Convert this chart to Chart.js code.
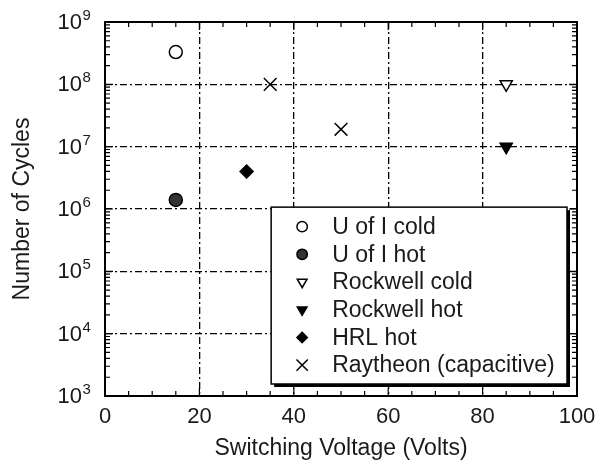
<!DOCTYPE html>
<html>
<head>
<meta charset="utf-8">
<script src="https://cdn.jsdelivr.net/npm/chart.js@4.4.1/dist/chart.umd.min.js"></script>
<style>
  html, body { margin: 0; padding: 0; background: #fff; }
  #wrap { width: 599px; height: 466px; }
</style>
</head>
<body>
<div id="wrap"><canvas id="chart"></canvas></div>
<script>
// values
const U_OF_I_COLD = [{ x: 15, y: 3.3e8 }]
const U_OF_I_HOT = [{ x: 15, y: 1.4e6 }]
const ROCKWELL_COLD = [{ x: 85, y: 1e8 }]
const ROCKWELL_HOT = [{ x: 85, y: 1e7 }]
const HRL_HOT = [{ x: 30, y: 4e6 }]
const RAYTHEON = [{ x: 35, y: 1e8 }, { x: 50, y: 1.9e7 }]

const X_TICKS = [0, 20, 40, 60, 80, 100]
const X_MINOR_STEP = 5
const Y_DECADES = [1e3, 1e4, 1e5, 1e6, 1e7, 1e8, 1e9]

const FONT = "'Liberation Sans', Arial, sans-serif"
const INK = "#1a1a1a"
const DASH = [7, 3, 2, 3]

Chart.defaults.font.family = FONT
Chart.defaults.color = INK

const open = { backgroundColor: "#fff", borderColor: "#000", borderWidth: 1.5 }
const filled = { backgroundColor: "#000", borderColor: "#000", borderWidth: 1.5 }

const datasets = [
  { label: "U of I cold", data: U_OF_I_COLD, pointStyle: "circle", pointRadius: 6.5, ...open },
  { label: "U of I hot", data: U_OF_I_HOT, pointStyle: "circle", pointRadius: 6.5,
    backgroundColor: "#333", borderColor: "#000", borderWidth: 1.5 },
  { label: "Rockwell cold", data: ROCKWELL_COLD, pointStyle: "triangle", rotation: 180, pointRadius: 7, ...open },
  { label: "Rockwell hot", data: ROCKWELL_HOT, pointStyle: "triangle", rotation: 180, pointRadius: 7, ...filled },
  { label: "HRL hot", data: HRL_HOT, pointStyle: "rectRot", pointRadius: 6.5, ...filled },
  { label: "Raytheon (capacitive)", data: RAYTHEON, pointStyle: "crossRot", pointRadius: 9,
    borderColor: "#000", backgroundColor: "#000", borderWidth: 1.5 },
]

// box, inward ticks and 10^n labels
const framePlugin = {
  id: "frame",
  afterDraw(chart) {
    const { ctx, chartArea: a, scales: { x, y } } = chart
    ctx.save()
    ctx.strokeStyle = "#000"
    ctx.lineWidth = 1.2
    ctx.beginPath()
    for (let v = X_TICKS[0]; v <= X_TICKS[X_TICKS.length - 1]; v += X_MINOR_STEP) {
      const px = x.getPixelForValue(v)
      const len = X_TICKS.includes(v) ? 8 : 5
      ctx.moveTo(px, a.bottom); ctx.lineTo(px, a.bottom - len)
      ctx.moveTo(px, a.top); ctx.lineTo(px, a.top + len)
    }
    Y_DECADES.forEach((d, i) => {
      const py = y.getPixelForValue(d)
      ctx.moveTo(a.left, py); ctx.lineTo(a.left + 8, py)
      ctx.moveTo(a.right, py); ctx.lineTo(a.right - 8, py)
      if (i === Y_DECADES.length - 1) return
      for (let m = 2; m <= 9; m++) {
        const pm = y.getPixelForValue(m * d)
        ctx.moveTo(a.left, pm); ctx.lineTo(a.left + 5, pm)
        ctx.moveTo(a.right, pm); ctx.lineTo(a.right - 5, pm)
      }
    })
    ctx.stroke()

    ctx.lineWidth = 2
    ctx.strokeRect(a.left, a.top, a.right - a.left, a.bottom - a.top)

    ctx.fillStyle = INK
    ctx.textBaseline = "alphabetic"
    Y_DECADES.forEach(d => {
      const py = y.getPixelForValue(d)
      const baseX = a.left - 23
      ctx.font = "22px " + FONT
      ctx.textAlign = "right"
      ctx.fillText("10", baseX, py + 7)
      ctx.font = "15px " + FONT
      ctx.textAlign = "left"
      ctx.fillText(String(Math.round(Math.log10(d))), baseX + 0.5, py - 2)
    })
    ctx.restore()
  },
}

// legend box drawn inside the plot, lower right
const legendPlugin = {
  id: "boxLegend",
  afterDatasetsDraw(chart) {
    const { ctx, chartArea: a } = chart
    const w = a.right - a.left
    const h = a.bottom - a.top
    const left = a.left + w * 0.352
    const right = a.right - 10
    const top = a.top + h * 0.495
    const bottom = a.bottom - 12
    ctx.save()
    ctx.fillStyle = "#000"
    ctx.fillRect(left + 3, top + 3, right - left, bottom - top)
    ctx.fillStyle = "#fff"
    ctx.fillRect(left, top, right - left, bottom - top)
    ctx.strokeStyle = "#000"
    ctx.lineWidth = 1.5
    ctx.strokeRect(left, top, right - left, bottom - top)

    const rowH = 27.7
    chart.data.datasets.forEach((ds, i) => {
      const cy = top + 19.5 + i * rowH
      const mx = left + 31
      ctx.fillStyle = ds.backgroundColor
      ctx.strokeStyle = ds.borderColor
      ctx.lineWidth = ds.borderWidth
      Chart.helpers.drawPoint(ctx, {
        pointStyle: ds.pointStyle,
        rotation: ds.rotation || 0,
        radius: ds.pointStyle === "crossRot" ? 8 : ds.pointRadius * 0.8,
        borderWidth: ds.borderWidth,
      }, mx, cy)
      ctx.fillStyle = INK
      ctx.font = "23px " + FONT
      ctx.textAlign = "left"
      ctx.textBaseline = "middle"
      ctx.fillText(ds.label, left + 61, cy + 1)
    })
    ctx.restore()
  },
}

new Chart(document.getElementById("chart"), {
  type: "scatter",
  data: { datasets },
  options: {
    responsive: true,
    maintainAspectRatio: false,
    animation: false,
    layout: { padding: { top: 22, right: 22, left: 0, bottom: 0 } },
    plugins: { legend: { display: false }, tooltip: { enabled: false } },
    scales: {
      x: {
        type: "linear",
        min: 0,
        max: 100,
        afterBuildTicks: s => { s.ticks = X_TICKS.map(v => ({ value: v })) },
        afterFit: s => { s.height = 70; s.paddingRight = 0; s.paddingLeft = 0 },
        ticks: { font: { size: 22 }, padding: 8, color: INK, maxRotation: 0 },
        grid: {
          drawTicks: false,
          lineWidth: 1.3,
          color: c => (c.tick && c.tick.value > 0 && c.tick.value < 100 ? "#000" : "transparent"),
        },
        border: { display: false, dash: DASH },
        title: { display: true, text: "Switching Voltage (Volts)", font: { size: 23 }, padding: { top: 0, bottom: 4 }, color: INK },
      },
      y: {
        type: "logarithmic",
        min: 1e3,
        max: 1e9,
        afterBuildTicks: s => { s.ticks = Y_DECADES.map(v => ({ value: v })) },
        afterFit: s => { s.width = 105 },
        ticks: { display: false },
        grid: {
          drawTicks: false,
          lineWidth: 1.3,
          color: c => (c.tick && c.tick.value > 1e3 && c.tick.value < 1e9 ? "#000" : "transparent"),
        },
        border: { display: false, dash: DASH },
        title: { display: true, text: "Number of Cycles", font: { size: 23 }, padding: { top: 9, bottom: 0 }, color: INK },
      },
    },
  },
  plugins: [framePlugin, legendPlugin],
})
</script>
</body>
</html>
